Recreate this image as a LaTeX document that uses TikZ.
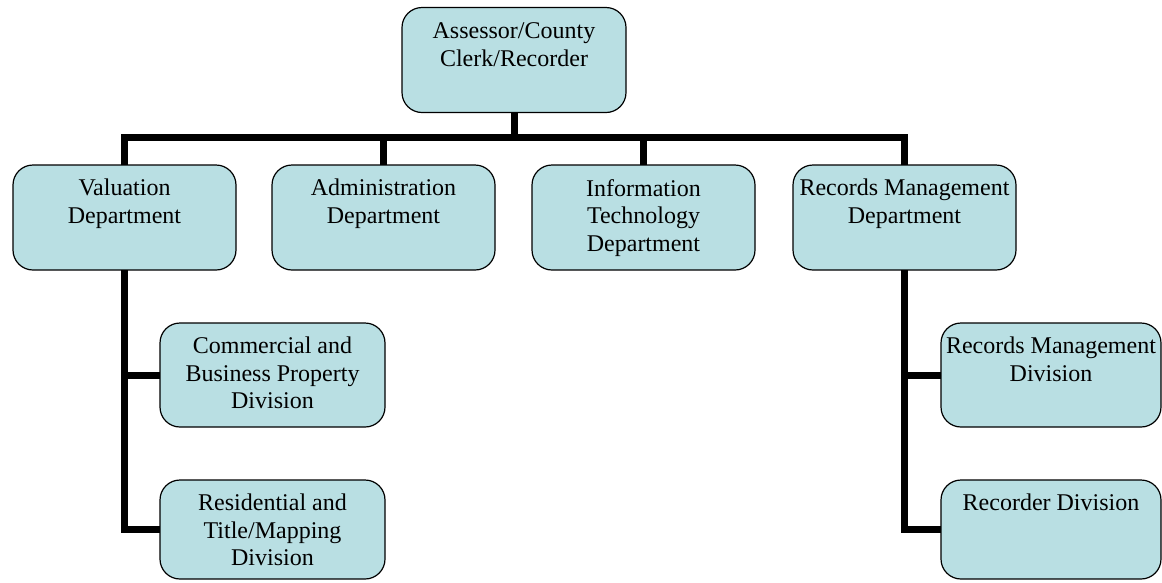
\documentclass[tikz,border=0pt]{standalone}
\usepackage{fontspec}
\setmainfont{Liberation Serif}
\definecolor{boxfill}{RGB}{185,223,227}
\begin{document}
\begin{tikzpicture}[x=1pt,y=-1pt,
  box/.style={draw=black, line width=1.2pt, fill=boxfill, rounded corners=20pt,
    inner sep=0pt, outer sep=0pt, minimum width=224pt, minimum height=105pt},
  lbl/.style={anchor=north, align=center, inner sep=0pt,
    font=\fontsize{24}{27.5}\selectfont},
  conn/.style={line width=7pt, line join=miter, line cap=butt}]
\useasboundingbox (0,0) rectangle (1162,582);
\begin{scope}
\clip (0,0) rectangle (1162,582);
% connectors
\coordinate (barL) at (124.5,137);
\coordinate (barR) at (904.5,137);
\draw[conn] ([xshift=-3.5pt]barL) -- ([xshift=3.5pt]barR);
% boxes
\node[box] (top) at (514,60) {};
\node[box, minimum width=223pt] (val) at (124.5,217.5) {};
\node[box, minimum width=223pt] (adm) at (383.5,217.5) {};
\node[box, minimum width=223pt] (it) at (643.5,217.5) {};
\node[box, minimum width=223pt] (rm) at (904.5,217.5) {};
\node[box, minimum width=225pt, minimum height=104pt] (com) at (272.5,375) {};
\node[box, minimum width=225pt, minimum height=99pt] (res) at (272.5,529.5) {};
\node[box, minimum width=220pt, minimum height=104pt] (rmd) at (1051,375) {};
\node[box, minimum width=220pt, minimum height=99pt] (rec) at (1051,529.5) {};
\draw[conn] (top.south) -- (top.south |- barL);
\draw[conn] (val.north) -- (val.north |- barL);
\draw[conn] (adm.north) -- (adm.north |- barL);
\draw[conn] (it.north) -- (it.north |- barL);
\draw[conn] (rm.north) -- (rm.north |- barL);
\draw[conn] (val.south) |- (res.west);
\draw[conn] (val.south) |- (com.west);
\draw[conn] (rm.south) |- (rec.west);
\draw[conn] (rm.south) |- (rmd.west);
% texts
\node[lbl] (topt) at ([yshift=-15pt]top.north) {Assessor/County\\Clerk/Recorder};
\node[lbl] (valt) at ([yshift=-14pt]val.north) {Valuation\\Department};
\node[lbl] (admt) at ([yshift=-14pt]adm.north) {Administration\\Department};
\node[lbl] (itt) at ([yshift=-14pt]it.north) {Information\\Technology\\Department};
\node[lbl] (rmt) at ([yshift=-14pt]rm.north) {Records Management\\Department};
\node[lbl] (comt) at ([yshift=-14pt]com.north) {Commercial and\\Business Property\\Division};
\node[lbl] (rest) at ([yshift=-14pt]res.north) {Residential and\\Title/Mapping\\Division};
\node[lbl] (rmdt) at ([yshift=-14pt]rmd.north) {Records Management\\Division};
\node[lbl] (rect) at ([yshift=-14pt]rec.north) {Recorder Division};
\end{scope}
\end{tikzpicture}
\end{document}
